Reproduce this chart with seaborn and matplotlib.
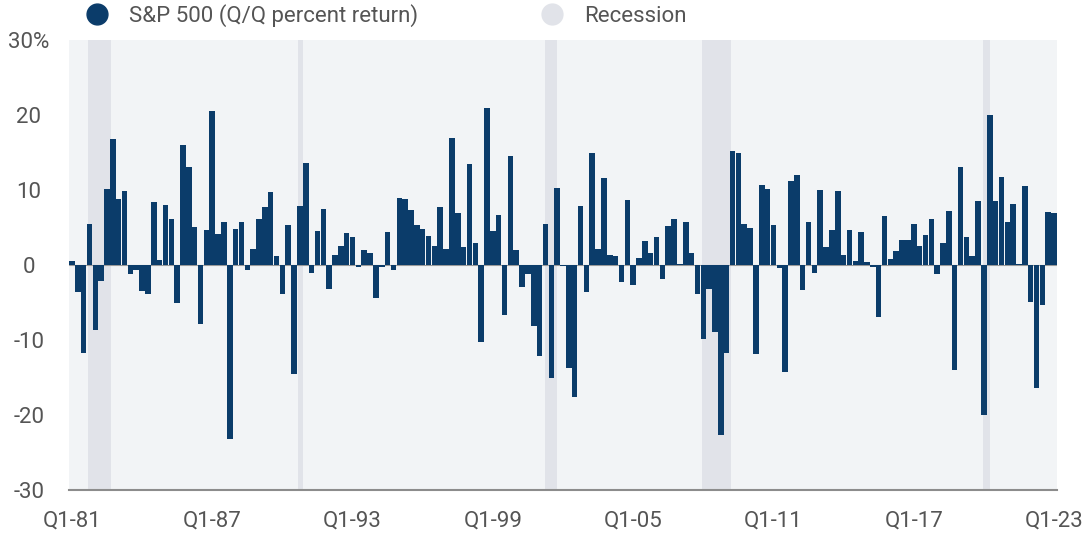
import numpy as np
import pandas as pd
import matplotlib
matplotlib.use("Agg")
import matplotlib.pyplot as plt
from matplotlib.lines import Line2D
import seaborn as sns

# quarterly S&P 500 returns (%), Q1-81 .. Q1-23
returns_1980s = [0.5, -3.6, -11.7, 5.5,
                 -8.6, -2.1, 10.1, 16.8,
                 8.8, 9.9, -1.2, -0.7,
                 -3.5, -3.8, 8.4, 0.7,
                 8.0, 6.2, -5.1, 16.0,
                 13.1, 5.1, -7.8, 4.7,
                 20.5, 4.2, 5.8, -23.2,
                 4.8, 5.8, -0.6, 2.1,
                 6.2, 7.8, 9.8, 1.2]
returns_1990s = [-3.8, 5.3, -14.5, 7.9,
                 13.6, -1.1, 4.5, 7.5,
                 -3.2, 1.3, 2.6, 4.3,
                 3.7, -0.3, 2.0, 1.6,
                 -4.4, -0.3, 4.4, -0.7,
                 9.0, 8.8, 7.3, 5.4,
                 4.8, 3.9, 2.5, 7.8,
                 2.2, 16.9, 7.0, 2.4,
                 13.5, 3.0, -10.3, 20.9,
                 4.6, 6.7, -6.6, 14.5]
returns_2000s = [2.0, -2.9, -1.2, -8.1,
                 -12.1, 5.5, -15.0, 10.3,
                 -0.1, -13.7, -17.6, 7.9,
                 -3.6, 14.9, 2.2, 11.6,
                 1.3, 1.2, -2.3, 8.7,
                 -2.6, 0.9, 3.2, 1.6,
                 3.7, -1.9, 5.2, 6.2,
                 0.2, 5.8, 1.6, -3.8,
                 -9.9, -3.2, -8.9, -22.6,
                 -11.7, 15.2, 15.0, 5.5]
returns_2010s = [4.9, -11.9, 10.7, 10.2,
                 5.4, -0.4, -14.3, 11.2,
                 12.0, -3.3, 5.8, -1.0,
                 10.0, 2.4, 4.7, 9.9,
                 1.3, 4.7, 0.6, 4.4,
                 0.4, -0.2, -6.9, 6.5,
                 0.8, 1.9, 3.3, 3.3,
                 5.5, 2.6, 4.0, 6.1,
                 -1.2, 2.9, 7.2, -14.0,
                 13.1, 3.8, 1.2, 8.5]
returns_2020s = [-20.0, 20.0, 8.5, 11.7,
                 5.8, 8.2, 0.2, 10.6,
                 -4.9, -16.4, -5.3, 7.1,
                 7.0]

# recession spans, in quarters counted from Q1-81
recession_start = [2.75, 38.6, 80.9, 107.7, 155.9]
recession_end = [6.7, 39.6, 82.9, 112.8, 157.1]

tick_years = [81, 87, 93, 99, 5, 11, 17, 23]

returns = returns_1980s + returns_1990s + returns_2000s + returns_2010s + returns_2020s
quarters = []
for k in range(len(returns)):
    yr = (1981 + k // 4) % 100
    quarters.append(f"Q{k % 4 + 1}-{yr:02d}")
df = pd.DataFrame({"quarter": quarters, "ret": returns})

navy = "#0b3c6a"
rec_color = "#e1e3e9"
bg = "#f2f4f6"
txt = "#555555"

sns.set_theme(style="white")
plt.rcParams["font.family"] = ["Roboto", "DejaVu Sans"]

fig = plt.figure(figsize=(10.83, 5.35), dpi=100)
ax = fig.add_axes([69 / 1083, 1 - 490 / 535, (1057 - 69) / 1083, 450 / 535])
ax.set_facecolor(bg)

for s, e in zip(recession_start, recession_end):
    ax.axvspan(s, e, color=rec_color, lw=0, zorder=0)
ax.axhline(0, color="#9a9a9a", lw=0.8, zorder=1)

sns.barplot(data=df, x="quarter", y="ret", color=navy, width=0.95,
            saturation=1, linewidth=0, ax=ax, zorder=2)

ax.set_xlim(-0.5, len(returns) - 0.5)
ax.set_ylim(-30, 30)
tick_labels = [f"Q1-{y:02d}" for y in tick_years]
ax.set_xticks([quarters.index(t) for t in tick_labels])
ax.set_xticklabels(tick_labels)
ax.set_yticks([-30, -20, -10, 0, 10, 20, 30])
ax.set_yticklabels(["-30", "-20", "-10", "0", "10", "20", "30%"])
ax.tick_params(axis="x", length=0, pad=15, labelsize=16, colors=txt)
ax.tick_params(axis="y", length=0, pad=29, labelsize=16, colors=txt)
for lab in ax.get_yticklabels():
    lab.set_horizontalalignment("center")
ax.set_xlabel("")
ax.set_ylabel("")

for side in ["top", "right", "left"]:
    ax.spines[side].set_visible(False)
ax.spines["bottom"].set_color("#8c8c8c")
ax.spines["bottom"].set_linewidth(1.5)

handles = [
    Line2D([], [], marker="o", ls="", markersize=15, color=navy),
    Line2D([], [], marker="o", ls="", markersize=15, color=rec_color),
]
fig.legend(handles, ["S&P 500 (Q/Q percent return)", "Recession"],
           loc="upper left", bbox_to_anchor=(66 / 1083, 1.03), ncol=2,
           frameon=False, fontsize=16, labelcolor=txt,
           handletextpad=0.95, columnspacing=5.5, handlelength=1.0)

fig.savefig("out.png", dpi=100)
